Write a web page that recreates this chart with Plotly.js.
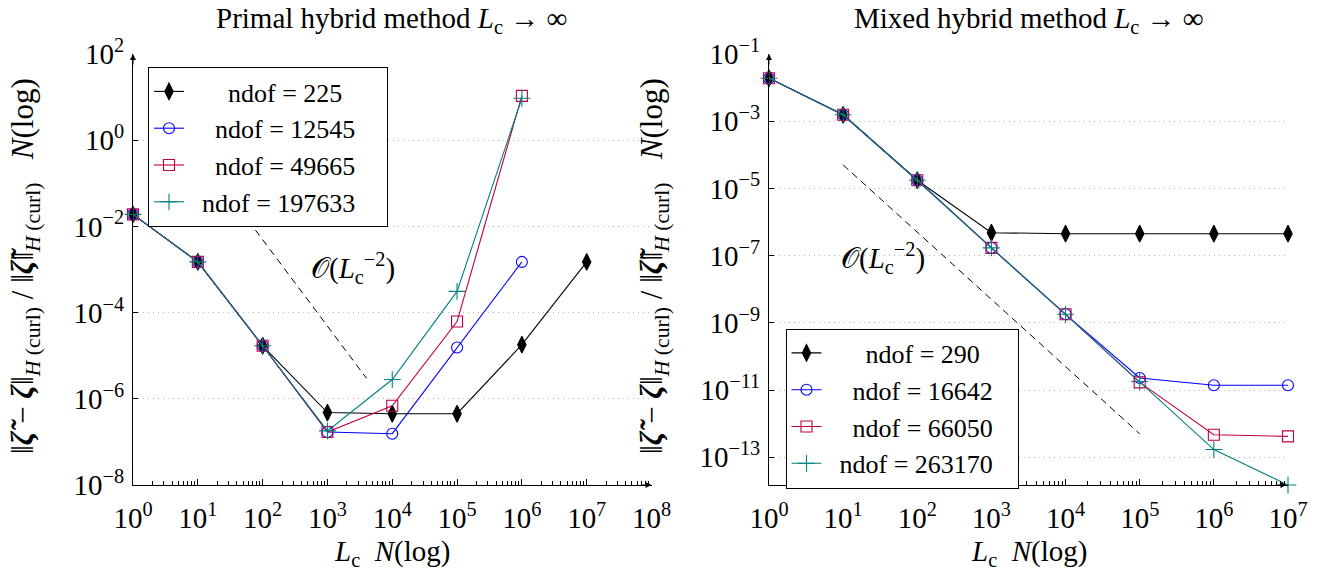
<!DOCTYPE html>
<html>
<head>
<meta charset="utf-8">
<script src="https://cdn.plot.ly/plotly-3.0.1.min.js"></script>
<style>html,body{margin:0;padding:0;background:#fff;}#chart{width:1337px;height:571px;}</style>
</head>
<body>
<div id="chart"></div>
<script>
// ---------- data ----------
const Lc = [1, 10, 100, 1e3, 1e4, 1e5, 1e6, 1e7];

// Primal hybrid method
const primalNames = ['ndof = 225', 'ndof = 12545', 'ndof = 49665', 'ndof = 197633'];
const primal225    = [0.019, 1.5e-3, 1.7e-5, 4.8e-7, 4.5e-7, 4.5e-7, 1.8e-5, 1.5e-3];
const primal12545  = [0.019, 1.5e-3, 1.7e-5, 1.7e-7, 1.55e-7, 1.55e-5, 1.5e-3];
const primal49665  = [0.019, 1.5e-3, 1.7e-5, 1.7e-7, 6.9e-7, 6.2e-5, 10.7];
const primal197633 = [0.019, 1.5e-3, 1.7e-5, 1.8e-7, 2.8e-6, 3.1e-4, 9.4];
const primalRefX = [10, 4000];
const primalRefY = [0.5, 3.0e-6];

// Mixed hybrid method
const mixedNames = ['ndof = 290', 'ndof = 16642', 'ndof = 66050', 'ndof = 263170'];
const mixed290    = [0.019, 1.55e-3, 1.75e-5, 4.8e-7, 4.5e-7, 4.5e-7, 4.5e-7, 4.5e-7];
const mixed16642  = [0.019, 1.55e-3, 1.75e-5, 1.7e-7, 1.8e-9, 2.3e-11, 1.4e-11, 1.4e-11];
const mixed66050  = [0.019, 1.55e-3, 1.75e-5, 1.7e-7, 1.8e-9, 1.7e-11, 4.7e-13, 4.2e-13];
const mixed263170 = [0.019, 1.55e-3, 1.75e-5, 1.7e-7, 1.8e-9, 1.8e-11, 1.7e-13, 1.5e-14];
const mixedRefX = [10, 1e5];
const mixedRefY = [5e-5, 5e-13];

const leftXTicks  = [0, 1, 2, 3, 4, 5, 6, 7, 8];
const rightXTicks = [0, 1, 2, 3, 4, 5, 6, 7];
const leftYTicks  = [2, 0, -2, -4, -6, -8];
const rightYTicks = [-1, -3, -5, -7, -9, -11, -13];

// ---------- styling ----------
const W = 1337, H = 571;
const FONT = 'Liberation Serif';
const FS = 29;
const LFS = 26;
const YFS = 31;
const px = v => v / W;
const py = v => 1 - v / H;

const styles = [
  {color: '#000000', symbol: 'diamond-tall', size: 12, fill: '#000000'},
  {color: '#0000ff', symbol: 'circle-open', size: 11},
  {color: '#bf0040', symbol: 'square-open', size: 11},
  {color: '#008080', symbol: 'cross-thin-open', size: 12}
];

function sup(e) { return '10<sup>' + (e < 0 ? '\u2212' + (-e) : e) + '</sup>'; }
function pad(name, lead, trail) { return ' '.repeat(lead) + name + '\u00a0'.repeat(trail); }

function series(x, y, i, name, xa, ya, leg, lead, trail) {
  const s = styles[i];
  return {
    x: x.slice(0, y.length), y: y, name: pad(name, lead, trail), xaxis: xa, yaxis: ya, legend: leg,
    type: 'scatter', mode: 'lines+markers', cliponaxis: false,
    line: {color: s.color, width: 1.1},
    marker: {symbol: s.symbol, size: s.size, color: s.fill || s.color,
             line: {color: s.color, width: 1.1}}
  };
}

const traces = [
  series(Lc, primal225, 0, primalNames[0], 'x', 'y', 'legend', 6, 6),
  series(Lc, primal12545, 1, primalNames[1], 'x', 'y', 'legend', 4, 4),
  series(Lc, primal49665, 2, primalNames[2], 'x', 'y', 'legend', 4, 4),
  series(Lc, primal197633, 3, primalNames[3], 'x', 'y', 'legend', 2, 2),
  {x: primalRefX, y: primalRefY, xaxis: 'x', yaxis: 'y', mode: 'lines', showlegend: false,
   line: {color: '#000', width: 1, dash: '7px,5px'}, hoverinfo: 'skip'},
  series(Lc, mixed290, 0, mixedNames[0], 'x2', 'y2', 'legend2', 6, 5),
  series(Lc, mixed16642, 1, mixedNames[1], 'x2', 'y2', 'legend2', 4, 3),
  series(Lc, mixed66050, 2, mixedNames[2], 'x2', 'y2', 'legend2', 4, 3),
  series(Lc, mixed263170, 3, mixedNames[3], 'x2', 'y2', 'legend2', 2, 1),
  {x: mixedRefX, y: mixedRefY, xaxis: 'x2', yaxis: 'y2', mode: 'lines', showlegend: false,
   line: {color: '#000', width: 1, dash: '7px,5px'}, hoverinfo: 'skip'}
];

function xAxis(domain, ticks, anchor) {
  const minor = [];
  for (let d = ticks[0]; d < ticks[ticks.length - 1]; d++)
    for (let k = 2; k <= 9; k++) minor.push(k * Math.pow(10, d));
  return {
    type: 'log', domain: domain, anchor: anchor,
    range: [ticks[0], ticks[ticks.length - 1]],
    tickmode: 'array', tickvals: ticks.map(e => Math.pow(10, e)), ticktext: ticks.map(sup),
    ticks: 'inside', ticklen: 6, tickwidth: 1, tickcolor: '#000', ticklabelstandoff: 7,
    minor: {tickmode: 'array', tickvals: minor, ticks: 'inside', ticklen: 4, tickwidth: 1, tickcolor: '#000', showgrid: false},
    showline: true, linecolor: '#000', linewidth: 1, showgrid: false, zeroline: false,
    tickfont: {family: FONT, size: FS, color: '#000'}, automargin: false
  };
}
function yAxis(domain, ticks, range, anchor) {
  return {
    type: 'log', domain: domain, anchor: anchor, range: range,
    tickmode: 'array', tickvals: ticks.map(e => Math.pow(10, e)), ticktext: ticks.map(sup),
    ticks: 'inside', ticklen: 5, tickwidth: 1, tickcolor: '#000', ticklabelstandoff: 2,
    showline: true, linecolor: '#000', linewidth: 1,
    showgrid: true, gridcolor: '#b4b4b4', griddash: '1px,4px', gridwidth: 1, zeroline: false,
    tickfont: {family: FONT, size: FS, color: '#000'}, automargin: false
  };
}

const yDom = [1 - 485 / H, 1 - 54 / H];
const ytitle = '\u2016<b><i>\u03b6\u0303</i></b> \u2212 <b><i>\u03b6</i></b>\u2016<sub><i>H</i> (curl)</sub> / \u2016<b><i>\u03b6\u0303</i></b>\u2016<sub><i>H</i> (curl)</sub>   <i>N</i>(log)';
const xtitle = '<i>L</i><sub>c</sub>  <i>N</i>(log)';
const ann = (o) => Object.assign({showarrow: false, font: {family: FONT, size: FS, color: '#000'}}, o);
const arrow = (o) => Object.assign({text: '', showarrow: true, arrowhead: 2, arrowsize: 1.2, arrowwidth: 1, arrowcolor: '#000', standoff: 0}, o);
const legFont = {family: FONT, size: LFS, color: '#000'};
const yFont = {family: FONT, size: YFS, color: '#000'};

const layout = {
  width: W, height: H, paper_bgcolor: '#fff', plot_bgcolor: 'rgba(0,0,0,0)',
  margin: {l: 0, r: 0, t: 0, b: 0},
  font: {family: FONT, size: FS, color: '#000'},
  xaxis: xAxis([px(133), px(651.5)], leftXTicks, 'y'),
  yaxis: yAxis(yDom, leftYTicks, [-8, 2], 'x'),
  xaxis2: xAxis([px(769), px(1288)], rightXTicks, 'y2'),
  yaxis2: yAxis(yDom, rightYTicks, [Math.log10(1.5e-14), -1], 'x2'),
  legend: {x: px(148), y: py(67), xanchor: 'left', yanchor: 'top', bgcolor: '#fff',
           bordercolor: '#000', borderwidth: 1, font: legFont, tracegroupgap: 0},
  legend2: {x: px(785.5), y: py(328.5), xanchor: 'left', yanchor: 'top', bgcolor: '#fff',
           bordercolor: '#000', borderwidth: 1, font: legFont, tracegroupgap: 0},
  annotations: [
    ann({text: 'Primal hybrid method <i>L</i><sub>c</sub> \u2192 \u221e', xref: 'paper', yref: 'paper', x: px(392), y: py(20), xanchor: 'center', yanchor: 'middle'}),
    ann({text: 'Mixed hybrid method <i>L</i><sub>c</sub> \u2192 \u221e', xref: 'paper', yref: 'paper', x: px(1028.5), y: py(20), xanchor: 'center', yanchor: 'middle'}),
    ann({text: xtitle, xref: 'paper', yref: 'paper', x: px(392), y: py(553), xanchor: 'center', yanchor: 'middle'}),
    ann({text: xtitle, xref: 'paper', yref: 'paper', x: px(1028.5), y: py(553), xanchor: 'center', yanchor: 'middle'}),
    ann({text: ytitle, font: yFont, xref: 'paper', yref: 'paper', x: px(25), y: py(266), textangle: -90, xanchor: 'center', yanchor: 'middle'}),
    ann({text: ytitle, font: yFont, xref: 'paper', yref: 'paper', x: px(654), y: py(266), textangle: -90, xanchor: 'center', yanchor: 'middle'}),
    ann({text: '\ud835\udcaa(<i>L</i><sub>c</sub><sup>\u22122</sup>)', xref: 'x', yref: 'y', x: 3.40, y: -2.96, xanchor: 'center', yanchor: 'middle'}),
    ann({text: '\ud835\udcaa(<i>L</i><sub>c</sub><sup>\u22122</sup>)', xref: 'x2', yref: 'y2', x: 1.54, y: -7.06, xanchor: 'center', yanchor: 'middle'}),
    arrow({xref: 'x', yref: 'y', x: 8, y: -8, ax: -12, ay: 0}),
    arrow({xref: 'x', yref: 'y', x: 0, y: 2, ax: 0, ay: 12}),
    arrow({xref: 'x2', yref: 'y2', x: 6.98, y: Math.log10(1.5e-14), ax: -12, ay: 0}),
    arrow({xref: 'x2', yref: 'y2', x: 0, y: -1, ax: 0, ay: 12})
  ],
  showlegend: true
};

Plotly.newPlot('chart', traces, layout, {staticPlot: true, displayModeBar: false});
</script>
</body>
</html>
